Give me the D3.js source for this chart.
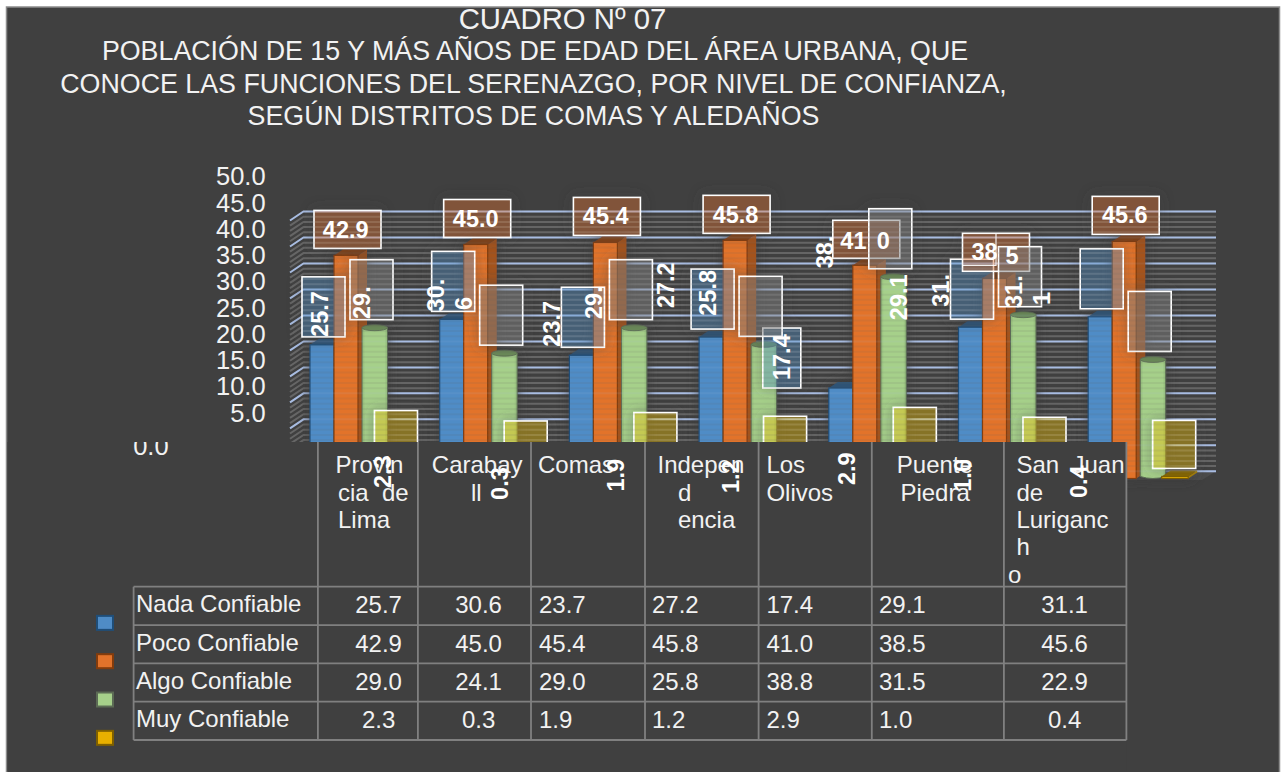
<!DOCTYPE html>
<html>
<head>
<meta charset="utf-8">
<script src="https://cdn.jsdelivr.net/npm/d3@7"></script>
<style>
  html, body { margin: 0; padding: 0; background: #fff; }
  svg { display: block; }
  text { font-family: "Liberation Sans", Arial, sans-serif; }
</style>
</head>
<body>
<div id="chart"></div>
<script>
// data
const distritos = ['Provincia de Lima', 'Carabayllo', 'Comas', 'Independencia', 'Los Olivos', 'Puente Piedra', 'San Juan de Lurigancho']
const seriesNames = ['Nada Confiable', 'Poco Confiable', 'Algo Confiable', 'Muy Confiable']
const nada = [25.7, 30.6, 23.7, 27.2, 17.4, 29.1, 31.1]
const poco = [42.9, 45.0, 45.4, 45.8, 41.0, 38.5, 45.6]
const algo = [29.0, 24.1, 29.0, 25.8, 38.8, 31.5, 22.9]
const muy = [2.3, 0.3, 1.9, 1.2, 2.9, 1.0, 0.4]
const yTicks = [50, 45, 40, 35, 30, 25, 20, 15, 10, 5]
const titleLines = [
  'CUADRO Nº 07',
  'POBLACIÓN DE 15 Y MÁS AÑOS DE EDAD DEL ÁREA URBANA, QUE',
  'CONOCE LAS FUNCIONES DEL SERENAZGO, POR NIVEL DE CONFIANZA,',
  'SEGÚN DISTRITOS DE COMAS Y ALEDAÑOS'
]

const values = [nada, poco, algo, muy]
const fills = ['#4f8cc6', '#e2732b', '#a6d08a', '#e8b000']
const strokes = ['#1f4e79', '#843c0c', '#5c6b55', '#7f6000']
const boxFills = ['rgba(78,140,196,.4)', 'rgba(224,113,44,.4)', 'rgba(128,128,128,.5)', 'rgba(240,190,0,.4)']

const width = 1281
const height = 772
const svg = d3.select('#chart').append('svg').attr('width', width).attr('height', height)
const defs = svg.append('defs')

svg.append('rect').attr('x', 6.5).attr('y', 7).attr('width', 1273).attr('height', 770)
  .attr('fill', '#404040').attr('stroke', '#8c8c8c').attr('stroke-width', 1.5)

// scales
const x = d3.scalePoint().domain(d3.range(7)).range([310, 1088.2])
const yFront = d3.scaleLinear().domain([0, 50]).range([478.5, 218.5])
const yWall = d3.scaleLinear().domain([0, 50]).range([471.3, 211.5])
const yLabel = d3.scaleLinear().domain([0, 5, 50]).range([446.3, 413, 176.7])

defs.append('filter').attr('id', 'soft').attr('x', '-30%').attr('y', '-30%').attr('width', '160%').attr('height', '160%')
  .append('feDropShadow').attr('dx', 0).attr('dy', 0).attr('stdDeviation', 6)
  .attr('flood-color', '#3a3a3a').attr('flood-opacity', 0.9)

// glow around the label boxes only, the inside has to stay see through
const glow = defs.append('filter').attr('id', 'glow').attr('x', '-10%').attr('y', '-10%').attr('width', '120%').attr('height', '120%')
glow.append('feGaussianBlur').attr('in', 'SourceAlpha').attr('stdDeviation', 7).attr('result', 'blur')
glow.append('feFlood').attr('flood-color', '#404040').attr('flood-opacity', 0.75).attr('result', 'col')
glow.append('feComposite').attr('in', 'col').attr('in2', 'blur').attr('operator', 'in').attr('result', 'sh')
glow.append('feComponentTransfer').attr('in', 'SourceAlpha').attr('result', 'solid')
  .append('feFuncA').attr('type', 'table').attr('tableValues', '0 1 1 1 1')
glow.append('feComposite').attr('in', 'sh').attr('in2', 'solid').attr('operator', 'out').attr('result', 'outer')
const glowMerge = glow.append('feMerge')
glowMerge.append('feMergeNode').attr('in', 'outer')
glowMerge.append('feMergeNode').attr('in', 'SourceGraphic')

const cyl = defs.append('linearGradient').attr('id', 'cyl')
cyl.append('stop').attr('offset', '0%').attr('stop-color', '#8fb878')
cyl.append('stop').attr('offset', '12%').attr('stop-color', '#a6d08a')
cyl.append('stop').attr('offset', '88%').attr('stop-color', '#a6d08a')
cyl.append('stop').attr('offset', '100%').attr('stop-color', '#8fb878')

// title
svg.append('g').selectAll('text').data(titleLines).enter().append('text')
  .attr('x', (d, i) => i == 0 ? 562.5 : (i == 1 ? 535 : 533.5))
  .attr('y', (d, i) => [29, 60, 93, 125][i])
  .attr('text-anchor', 'middle')
  .attr('font-size', (d, i) => i == 0 ? 29.3 : 26.8)
  .attr('fill', '#f2f2f2')
  .text(d => d)

// back wall, one stripe per unit and a blue line every 5
const wallLine = v => `M290,${yWall(v) + 9}L303.5,${yWall(v)}L1216,${yWall(v)}`
const drawWall = (g, floor) => {
  if (floor) {
    g.append('path')
      .attr('d', `M303.5,471.3L1216,471.3L1202,480L290,480Z`)
      .attr('fill', '#4c4c4c')
  }
  g.selectAll('.stripe').data(d3.range(0, 50).filter(v => v % 5 != 0)).enter().append('path')
    .attr('class', 'stripe')
    .attr('d', wallLine).attr('fill', 'none')
    .attr('stroke', '#666').attr('stroke-width', 2)
  g.selectAll('.grid').data(d3.range(0, 51, 5)).enter().append('path')
    .attr('class', 'grid')
    .attr('d', wallLine).attr('fill', 'none')
    .attr('stroke', '#a9bde2').attr('stroke-width', 2)
}
drawWall(svg.append('g'), true)

// bars
const barW = [24, 24, 25.5, 26.5]
const barOff = [0, 24, 52, 73.5]
const depthX = 9
const depthY = 6
const barsG = svg.append('g').attr('filter', 'url(#soft)')

values.forEach((vals, s) => {
  const g = barsG.append('g').attr('class', 'serie' + s)
  const left = i => x(i) + barOff[s]

  if (s == 2) {
    // green ones are cylinders
    g.selectAll('path.body').data(vals).enter().append('path').attr('class', 'body')
      .attr('d', (d, i) => {
        const l = left(i), r = l + barW[s]
        return `M${l},${yFront(d)}L${l},${yFront(0) - 2}Q${(l + r) / 2},${yFront(0) + 2} ${r},${yFront(0) - 2}L${r},${yFront(d)}Z`
      })
      .attr('fill', 'url(#cyl)').attr('stroke', strokes[s]).attr('stroke-width', 1)
    g.selectAll('ellipse').data(vals).enter().append('ellipse')
      .attr('cx', (d, i) => left(i) + barW[s] / 2)
      .attr('cy', d => yFront(d))
      .attr('rx', barW[s] / 2).attr('ry', 3)
      .attr('fill', '#6b8a58').attr('stroke', strokes[s]).attr('stroke-width', 0.8)
    return
  }

  g.selectAll('path.side').data(vals).enter().append('path').attr('class', 'side')
    .attr('d', (d, i) => {
      const r = left(i) + barW[s]
      return `M${r},${yFront(d)}L${r + depthX},${yFront(d) - depthY}L${r + depthX},${yFront(0) - depthY}L${r},${yFront(0)}Z`
    })
    .attr('fill', d3.color(fills[s]).darker(0.9))
  g.selectAll('path.top').data(vals).enter().append('path').attr('class', 'top')
    .attr('d', (d, i) => {
      const l = left(i), r = l + barW[s]
      return `M${l},${yFront(d)}L${l + depthX},${yFront(d) - depthY}L${r + depthX},${yFront(d) - depthY}L${r},${yFront(d)}Z`
    })
    .attr('fill', d3.color(fills[s]).darker(1.5))
  g.selectAll('rect').data(vals).enter().append('rect')
    .attr('x', (d, i) => left(i))
    .attr('y', d => yFront(d))
    .attr('width', barW[s])
    .attr('height', d => yFront(0) - yFront(d))
    .attr('fill', fills[s]).attr('stroke', strokes[s]).attr('stroke-width', 1.2)
})

// data label boxes, they sit above their bar
const boxOff = [-8, 4, 40, 64.5]
const boxW = [43, 67, 43, 43]
const boxH = [60, 38, 60, 48]
const boxes = svg.append('g').attr('filter', 'url(#glow)')
values.forEach((vals, s) => {
  boxes.append('g').selectAll('rect').data(vals).enter().append('rect')
    .attr('x', (d, i) => (s == 0 && i == 4) ? x(i) - 66 : x(i) + boxOff[s])
    .attr('y', (d, i) => yFront(d) - (s == 1 ? 7 : 8) - boxH[s] + ((s == 0 && i == 4) ? 8 : 0))
    .attr('width', (d, i) => (s == 0 && i == 4) ? 38 : boxW[s])
    .attr('height', boxH[s])
    .attr('fill', boxFills[s])
    .attr('stroke', '#fff').attr('stroke-width', 1.6)
})
// inner edge on the Puente Piedra orange label
boxes.append('path')
  .attr('d', `M${x(5) + 37.5},${yFront(poco[5]) - 45}V${yFront(poco[5]) - 13}H${x(5) + 4}`)
  .attr('fill', 'none').attr('stroke', '#fff').attr('stroke-width', 1.2).attr('opacity', 0.9)

// the wall shows a bit through bars and boxes
drawWall(svg.append('g').attr('opacity', 0.1).attr('clip-path', 'url(#barsArea)'), false)
defs.append('clipPath').attr('id', 'barsArea').append('rect')
  .attr('x', 303.5).attr('y', 205).attr('width', 913).attr('height', 275)

// y axis
svg.append('g').attr('transform', 'translate(265.6,0)')
  .call(d3.axisLeft(yLabel).tickValues(yTicks).tickSize(0).tickPadding(0).tickFormat(d3.format('.1f')))
  .call(g => g.select('.domain').remove())
  .call(g => g.selectAll('text').attr('font-size', 25.5).attr('font-family', '"Liberation Sans", Arial, sans-serif').attr('fill', '#f2f2f2'))

// table
const colEdges = [133.6, 317.9, 417.9, 531, 645, 758.6, 871.8, 1003.9, 1126.4]
const tableTop = 442
const row = d3.scaleBand().domain(seriesNames).range([586.7, 740])

svg.append('rect').attr('x', 7.5).attr('y', tableTop).attr('width', 1126.4 - 7.5).attr('height', 772 - tableTop - 1)
  .attr('fill', '#404040')

const tableG = svg.append('g').attr('stroke', '#808080').attr('stroke-width', 1.8)
tableG.selectAll('line.h').data(d3.range(5)).enter().append('line').attr('class', 'h')
  .attr('x1', colEdges[0]).attr('x2', colEdges[8])
  .attr('y1', i => 586.7 + row.step() * i).attr('y2', i => 586.7 + row.step() * i)
tableG.selectAll('line.v').data(colEdges).enter().append('line').attr('class', 'v')
  .attr('x1', d => d).attr('x2', d => d)
  .attr('y1', (d, i) => i == 0 ? 586.7 : tableTop).attr('y2', 740)

// 0.0 is cut by the table top
defs.append('clipPath').attr('id', 'zeroClip').append('rect')
  .attr('x', 0).attr('y', tableTop).attr('width', 400).attr('height', 60)
svg.append('g').attr('clip-path', 'url(#zeroClip)')
  .append('g').attr('transform', 'translate(168.6,0)')
  .call(d3.axisLeft(yLabel).tickValues([0]).tickSize(0).tickPadding(0).tickFormat(d3.format('.1f')))
  .call(g => g.select('.domain').remove())
  .call(g => g.selectAll('text').attr('font-size', 25.5).attr('font-family', '"Liberation Sans", Arial, sans-serif').attr('fill', '#f2f2f2'))

// header cells, wrapped the way the picture wraps them
const headerLines = [
  [['Provin', 335.4], ['cia  de', 338], ['Lima', 338]],
  [['Carabay', 431.8], ['ll', 471]],
  [['Comas', 538]],
  [['Indepen', 657.5], ['d', 677.9], ['encia', 677.9]],
  [['Los', 766.4], ['Olivos', 766.4]],
  [['Puente', 896.8], ['Piedra', 900.4]],
  [['San  Juan', 1016.4], ['de', 1016.4], ['Luriganc', 1016.4], ['h', 1016.4]]
]
const tableFont = 24
headerLines.forEach(lines => {
  svg.append('g').selectAll('text').data(lines).enter().append('text')
    .attr('x', d => d[1])
    .attr('y', (d, i) => 465 + i * 27.3)
    .attr('dy', '.35em')
    .style('white-space', 'pre')
    .attr('font-size', tableFont).attr('fill', '#f2f2f2')
    .text(d => d[0])
})
svg.append('text').attr('x', 1008).attr('y', 574.3).attr('dy', '.35em')
  .attr('font-size', tableFont).attr('fill', '#f2f2f2').text('o')

// rows
seriesNames.forEach((name, s) => {
  const cy = row(name) + row.bandwidth() / 2
  svg.append('text').attr('x', 136).attr('y', cy - 2).attr('dy', '.35em')
    .attr('font-size', tableFont).attr('fill', '#f2f2f2').text(name)
  // first two and last columns are centred, the others start at the cell left
  const cellX = [378.6, 478.6, 539, 652, 766.4, 879, 1064.6]
  svg.append('g').selectAll('text').data(values[s]).enter().append('text')
    .attr('x', (d, i) => cellX[i])
    .attr('y', cy - 1)
    .attr('dy', '.35em')
    .attr('text-anchor', (d, i) => (i < 2 || i == 6) ? 'middle' : 'start')
    .attr('font-size', tableFont).attr('fill', '#f2f2f2')
    .text(d => d.toFixed(1))
  // legend key
  svg.append('rect').attr('x', 97).attr('y', cy + 17 - 7).attr('width', 16).attr('height', 14)
    .attr('fill', fills[s]).attr('stroke', strokes[s]).attr('stroke-width', 2)
})

// data label texts. word wrap in the original pushes a lot of them off their box
// [serie, district, text, dx from district, dy from bar top]
const pieces = [
  [0, 0, '25.7', 10, -8], [0, 1, '30.', -4, -8], [0, 1, '6', 23.6, -9.4], [0, 2, '23.7', -17.7, -8.6],
  [0, 3, '27.2', -34, -29], [0, 4, '17.4', -46.8, -8], [0, 5, '29.1', -60.2, -7],
  [0, 6, '31.', -74.4, -8.8], [0, 6, '1', -46.8, -11.8],
  [2, 0, '29.', 51.7, -8.7], [2, 2, '29.', 23.9, -8.7], [2, 3, '25.8', 8.2, -28.6],
  [2, 4, '38.', -4, -8.4], [2, 5, '31.', -18.2, -8],
  [3, 0, '2.3', 73, 21.5], [3, 1, '0.3', 59.9, 23], [3, 2, '1.9', 46.3, 23],
  [3, 3, '1.2', 31.6, 20.7], [3, 4, '2.9', 18, 21.6], [3, 5, '1.0', 4.4, 18.4], [3, 6, '0.4', -9.2, 21.6]
]
svg.append('g').selectAll('text').data(pieces).enter().append('text')
  .attr('transform', d => `translate(${x(d[1]) + d[3]},${yFront(values[d[0]][d[1]]) + d[4]})rotate(-90)`)
  .attr('dy', '.36em')
  .attr('font-size', 23.5).attr('font-weight', 'bold').attr('fill', '#fff')
  .text(d => d[2])

const flatPieces = [
  [0, '42.9', 35.7, -26], [1, '45.0', 36, -25.5], [2, '45.4', 36.3, -26.7], [3, '45.8', 36.4, -26],
  [4, '41', 24.6, -25], [4, '0', 54.6, -25], [5, '38', 26, -27], [5, '5', 53.5, -23], [6, '45.6', 36.6, -27]
]
svg.append('g').selectAll('text').data(flatPieces).enter().append('text')
  .attr('x', d => x(d[0]) + d[2])
  .attr('y', d => yFront(poco[d[0]]) + d[3])
  .attr('dy', '.36em')
  .attr('text-anchor', 'middle')
  .attr('font-size', 23.5).attr('font-weight', 'bold').attr('fill', '#fff')
  .text(d => d[1])
</script>
</body>
</html>
